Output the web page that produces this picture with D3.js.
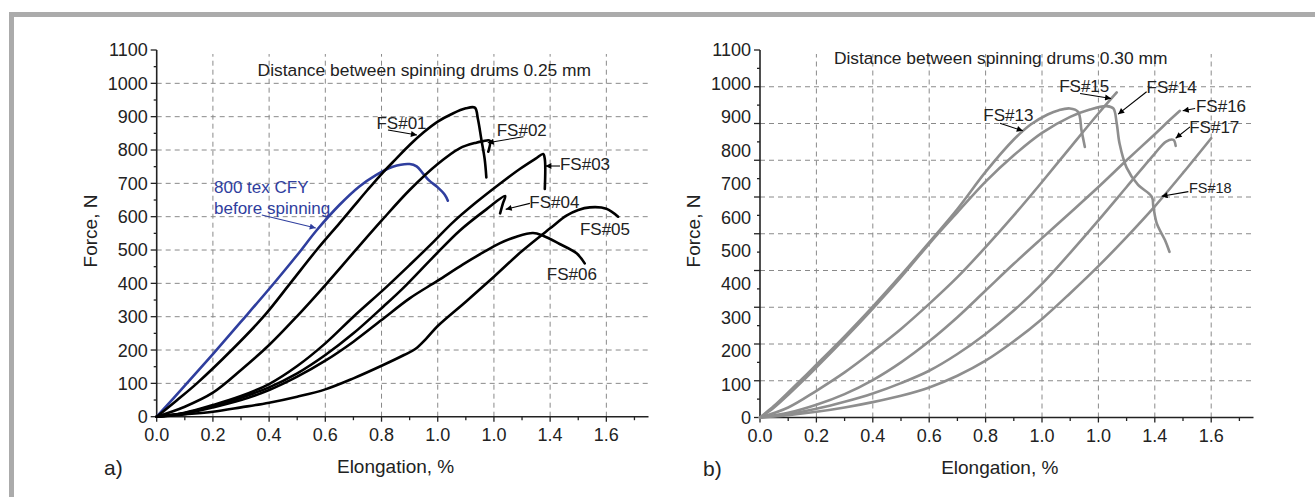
<!DOCTYPE html>
<html><head><meta charset="utf-8">
<script src="https://cdn.jsdelivr.net/npm/d3@7"></script>
<style>
html,body{margin:0;padding:0;background:#fff;}
svg{display:block;font-family:"Liberation Sans",Arial,sans-serif;}
</style></head>
<body><svg id="c" width="1315" height="497"></svg>
<script>
// ---------- tick labels ----------
const xTickValues = [0,0.2,0.4,0.6,0.8,1.0,1.2,1.4,1.6];
const xTickLabels = ["0.0","0.2","0.4","0.6","0.8","1.0","1.0","1.4","1.6"];
const yTickLabels = ["0","100","200","300","400","500","600","700","800","900","1000","1100"];
const yLabelValues = [0,100,200,300,400,500,600,700,800,900,1000,1100];
// panel b: 10 equal tick intervals under 11 label intervals (as printed)
const yTickValuesB = [0,110,220,330,440,550,660,770,880,990,1100];
const yTickValuesA = [0,100,200,300,400,500,600,700,800,900,1000,1100];

// ---------- panel a series (Elongation %, Force N) ----------
const cfy800 = [[0,0],[0.1,93],[0.2,188],[0.3,285],[0.4,383],[0.5,485],[0.57,560],[0.65,635],[0.72,690],[0.78,725],[0.84,750],[0.9,758],[0.925,751],[0.947,730],[0.97,708],[1.0,688],[1.025,666],[1.036,648]];
const fs01 = [[0,0],[0.07,48],[0.143,100],[0.267,200],[0.38,300],[0.475,400],[0.569,500],[0.65,580],[0.7,630],[0.75,680],[0.8,728],[0.85,772],[0.9,815],[0.95,853],[1.0,885],[1.05,908],[1.1,925],[1.132,927],[1.143,893],[1.155,833],[1.167,773],[1.173,718]];
const fs02 = [[0,0],[0.1,30],[0.2,72],[0.3,140],[0.4,215],[0.5,302],[0.6,395],[0.7,492],[0.8,588],[0.9,680],[1.0,758],[1.078,805],[1.137,822],[1.16,826],[1.185,828],[1.18,795]];
const fs03 = [[0,0],[0.1,12],[0.2,35],[0.3,62],[0.4,98],[0.5,152],[0.6,220],[0.7,300],[0.816,388],[0.9,455],[0.983,523],[1.054,583],[1.137,643],[1.22,698],[1.292,743],[1.35,775],[1.375,788],[1.381,773],[1.381,683]];
const fs04 = [[0,0],[0.1,11],[0.2,32],[0.3,57],[0.4,88],[0.5,130],[0.6,185],[0.7,250],[0.806,330],[0.876,385],[0.983,478],[1.078,558],[1.173,622],[1.24,662],[1.232,640],[1.222,610]];
const fs05 = [[0,0],[0.1,7],[0.2,15],[0.3,28],[0.4,42],[0.5,60],[0.6,82],[0.7,115],[0.806,155],[0.88,185],[0.92,203],[0.96,235],[1.0,272],[1.1,345],[1.2,420],[1.3,497],[1.4,565],[1.458,603],[1.5,620],[1.541,628],[1.6,624],[1.642,600]];
const fs06 = [[0,0],[0.1,10],[0.2,28],[0.3,50],[0.4,80],[0.5,120],[0.6,168],[0.7,225],[0.8,290],[0.9,355],[1.0,408],[1.09,457],[1.16,492],[1.22,520],[1.28,540],[1.339,551],[1.375,543],[1.434,518],[1.494,490],[1.523,460]];

// ---------- panel b series ----------
const fs13 = [[0,0],[0.05,35],[0.1,75],[0.15,116],[0.2,158],[0.3,243],[0.4,332],[0.5,426],[0.6,524],[0.7,624],[0.8,735],[0.9,832],[0.96,877],[1.02,907],[1.06,920],[1.099,925],[1.128,915],[1.14,860],[1.152,810]];
const fs14 = [[0,0],[0.05,30],[0.1,68],[0.15,108],[0.2,150],[0.3,236],[0.4,326],[0.5,420],[0.6,520],[0.7,614],[0.8,706],[0.9,785],[1.0,852],[1.1,900],[1.17,922],[1.229,932],[1.253,925],[1.265,880],[1.275,820],[1.3,748],[1.34,697],[1.389,661],[1.395,631],[1.407,581],[1.436,531],[1.452,496]];
const fs15 = [[0,0],[0.1,30],[0.2,80],[0.3,135],[0.4,198],[0.5,265],[0.6,340],[0.7,420],[0.8,510],[0.9,605],[1.0,705],[1.1,808],[1.2,910],[1.265,973]];
const fs16 = [[0,0],[0.1,14],[0.2,38],[0.3,70],[0.4,112],[0.5,165],[0.6,228],[0.7,300],[0.8,380],[0.9,460],[1.0,537],[1.1,613],[1.2,690],[1.3,770],[1.4,848],[1.45,888],[1.489,918]];
const fs17 = [[0,0],[0.1,10],[0.2,26],[0.3,47],[0.4,72],[0.5,103],[0.6,140],[0.7,190],[0.8,250],[0.9,320],[1.0,400],[1.1,493],[1.2,590],[1.3,690],[1.4,790],[1.44,826],[1.466,831],[1.474,813]];
const fs18 = [[0,0],[0.1,7],[0.2,17],[0.3,30],[0.4,46],[0.5,65],[0.6,90],[0.7,125],[0.8,170],[0.9,228],[1.0,295],[1.1,372],[1.2,453],[1.3,540],[1.4,632],[1.5,732],[1.6,836]];

const seriesA = [
  {name:"CFY", data:cfy800, color:"#2f3e9e"},
  {name:"FS#01", data:fs01, color:"#000"},
  {name:"FS#02", data:fs02, color:"#000"},
  {name:"FS#03", data:fs03, color:"#000"},
  {name:"FS#04", data:fs04, color:"#000"},
  {name:"FS#05", data:fs05, color:"#000"},
  {name:"FS#06", data:fs06, color:"#000"}
];
const seriesB = [fs13,fs14,fs15,fs16,fs17,fs18].map(d=>({data:d,color:"#8e8e8e"}));

// annotations: text, x, y (data units), arrow from -> to
const notesA = [
  {t:"FS#01", x:0.782, y:881, a:[[0.823,860],[0.926,845]]},
  {t:"FS#02", x:1.21, y:860, a:[[1.305,840],[1.178,822]]},
  {t:"FS#03", x:1.435, y:758, a:[[1.435,752],[1.383,752]]},
  {t:"FS#04", x:1.326, y:645, a:[[1.328,640],[1.242,622]]},
  {t:"FS#05", x:1.506, y:562},
  {t:"FS#06", x:1.388, y:427},
  {t:"800 tex CFY", x:0.204, y:690, c:"#2f3e9e"},
  {t:"before spinning", x:0.204, y:625, c:"#2f3e9e", a:[[0.374,605],[0.566,566]]}
];
const notesB = [
  {t:"FS#13", x:0.792, y:905, a:[[0.851,881],[0.932,858]]},
  {t:"FS#15", x:1.061, y:992, a:[[1.135,970],[1.245,955]]},
  {t:"FS#14", x:1.371, y:990, a:[[1.371,975],[1.27,908]]},
  {t:"FS#16", x:1.546, y:933, a:[[1.543,925],[1.499,918]]},
  {t:"FS#17", x:1.522, y:870, a:[[1.525,870],[1.474,836]]},
  {t:"FS#18", x:1.521, y:687, a:[[1.519,676],[1.424,662]], s:14.5}
];

const svg = d3.select("#c");
const defs = svg.append("defs");
["#000","#2f3e9e"].forEach((c,i)=>{
  defs.append("marker").attr("id","ah"+i).attr("viewBox","0 0 10 10").attr("refX",10).attr("refY",5)
    .attr("markerWidth",8).attr("markerHeight",6).attr("markerUnits","userSpaceOnUse").attr("orient","auto")
    .append("path").attr("d","M0,0L10,5L0,10z").attr("fill",c);
});

// frame
svg.append("rect").attr("x",9).attr("y",12).attr("width",1315).attr("height",5).attr("fill","#ababab");
svg.append("rect").attr("x",9).attr("y",12).attr("width",5).attr("height",497).attr("fill","#ababab");

function panel(o){
  const x = d3.scaleLinear().domain([0,1.75]).range(o.xr);
  const y = d3.scaleLinear().domain([0,1100]).range(o.yr);
  const g = svg.append("g");
  // grid
  g.selectAll(".vg").data(xTickValues.slice(1)).join("line")
    .attr("x1",d=>x(d)).attr("x2",d=>x(d)).attr("y1",o.yr[0]).attr("y2",o.yr[1]+4)
    .attr("stroke","#8a8a8a").attr("stroke-width",1).attr("stroke-dasharray","5,4");
  g.selectAll(".hg").data(o.yTicks.slice(1,-1)).join("line")
    .attr("y1",d=>y(d)).attr("y2",d=>y(d)).attr("x1",o.xr[0]).attr("x2",o.xr[1])
    .attr("stroke","#8a8a8a").attr("stroke-width",1).attr("stroke-dasharray","5,4");
  // axes lines
  g.append("line").attr("x1",o.xr[0]).attr("x2",o.xr[1]).attr("y1",o.yr[0]).attr("y2",o.yr[0]).attr("stroke","#222").attr("stroke-width",1.6);
  g.append("line").attr("x1",o.xr[0]).attr("x2",o.xr[0]).attr("y1",o.yr[0]).attr("y2",o.yr[1]).attr("stroke","#222").attr("stroke-width",1.6);
  // x ticks
  const xMinor = d3.range(0,1.71,0.1);
  g.selectAll(".xt").data(xMinor).join("line")
    .attr("x1",d=>x(d)).attr("x2",d=>x(d)).attr("y1",o.yr[0])
    .attr("y2",(d,i)=>o.yr[0]+(i%2===0?5:3.5)).attr("stroke","#222").attr("stroke-width",1.3);
  g.selectAll(".xl").data(xTickValues).join("text")
    .attr("x",d=>x(d)).attr("y",o.yr[0]+24).attr("text-anchor","middle")
    .attr("font-size",18).attr("fill","#222").text((d,i)=>xTickLabels[i]);
  // y ticks
  const step = o.yTicks[1]-o.yTicks[0];
  const yMinor = d3.range(0,1100.1,step/2);
  g.selectAll(".yt").data(yMinor).join("line")
    .attr("y1",d=>y(d)).attr("y2",d=>y(d)).attr("x1",o.xr[0])
    .attr("x2",(d,i)=>o.xr[0]-(i%2===0?6:3)).attr("stroke","#222").attr("stroke-width",1.3);
  g.selectAll(".yl").data(yLabelValues).join("text")
    .attr("x",o.xr[0]-9).attr("y",d=>y(d)).attr("dy","0.36em").attr("text-anchor","end")
    .attr("font-size",18).attr("fill","#222").text((d,i)=>yTickLabels[i]);
  // titles
  g.append("text").attr("x",(o.xr[0]+o.xr[1])/2 - 7).attr("y",o.yr[0]+56).attr("text-anchor","middle")
    .attr("font-size",19).attr("fill","#222").text("Elongation, %");
  g.append("text").attr("transform",`translate(${o.xr[0]-60},${231}) rotate(-90)`).attr("text-anchor","middle")
    .attr("font-size",19).attr("fill","#222").text("Force, N");
  g.append("text").attr("x",o.letterX).attr("y",o.yr[0]+58).attr("font-size",21).attr("fill","#222").text(o.letter);
  g.append("text").attr("x",x(o.title[0])).attr("y",y(o.title[1])).attr("dy","0.35em")
    .attr("font-size",17.4).attr("fill","#222").text(o.title[2]);
  // curves
  const line = d3.line().x(d=>x(d[0])).y(d=>y(d[1])).curve(d3.curveCatmullRom.alpha(0.5));
  g.selectAll(".crv").data(o.series).join("path")
    .attr("d",d=>line(d.data)).attr("fill","none").attr("stroke",d=>d.color)
    .attr("stroke-width",2.6).attr("stroke-linejoin","round").attr("stroke-linecap","round");
  // annotations
  o.notes.forEach(n=>{
    const c = n.c||"#222";
    g.append("text").attr("x",x(n.x)).attr("y",y(n.y)).attr("dy","0.35em")
      .attr("font-size",n.s||17).attr("fill",c).text(n.t);
    if(n.a){
      g.append("line").attr("x1",x(n.a[0][0])).attr("y1",y(n.a[0][1]))
        .attr("x2",x(n.a[1][0])).attr("y2",y(n.a[1][1]))
        .attr("stroke",n.c||"#000").attr("stroke-width",1.1)
        .attr("marker-end",`url(#ah${n.c?1:0})`);
    }
  });
}

panel({xr:[156.7,648.5], yr:[416.7,50], yTicks:yTickValuesA, series:seriesA, notes:notesA,
  letter:"a)", letterX:104, title:[0.359,1040,"Distance between spinning drums 0.25 mm"]});
panel({xr:[760,1253.5], yr:[417.5,50], yTicks:yTickValuesB, series:seriesB, notes:notesB,
  letter:"b)", letterX:703, title:[0.262,1076,"Distance between spinning drums 0.30 mm"]});
</script></body></html>
